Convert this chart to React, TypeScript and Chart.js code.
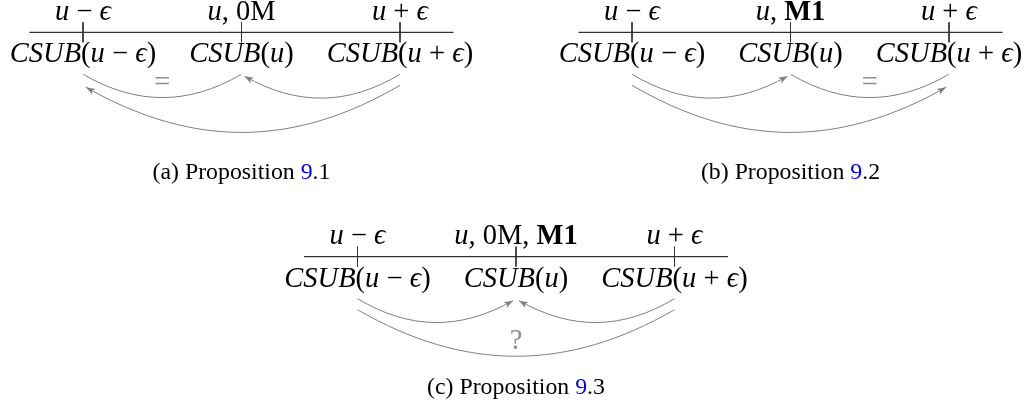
import React, { useEffect, useRef } from "react";
import { Chart, registerables } from "chart.js";

Chart.register(...registerables);

// ---------- data ----------
const panelLetters = ["a", "b", "c"];
const propositionChapters = ["9", "9", "9"];
const propositionNumbers = ["1", "2", "3"];
const tickPositions = [-1, 0, 1];
const topLabelsA = ["u − ϵ", "u, 0M", "u + ϵ"];
const topLabelsB = ["u − ϵ", "u, M1", "u + ϵ"];
const topLabelsC = ["u − ϵ", "u, 0M, M1", "u + ϵ"];
const bottomLabels = ["CSUB(u − ϵ)", "CSUB(u)", "CSUB(u + ϵ)"];
// arrows: [from tick, to tick, level (0 inner, 1 outer), arrow head (1/0), label]
const arrowsA: [number, number, number, number, string][] = [
  [-1, 0, 0, 0, "="],
  [1, 0, 0, 1, ""],
  [1, -1, 1, 1, ""],
];
const arrowsB: [number, number, number, number, string][] = [
  [-1, 0, 0, 1, ""],
  [0, 1, 0, 0, "="],
  [-1, 1, 1, 1, ""],
];
const arrowsC: [number, number, number, number, string][] = [
  [-1, 0, 0, 1, ""],
  [1, 0, 0, 1, ""],
  [-1, 1, 1, 0, "?"],
];

// ---------- layout ----------
const W = 1029;
const H = 414;
const panelCenters = [241.5, 790.5, 516];
const panelRows = [32.3, 32.3, 256.7];
const captionBaselines = [178.5, 178.5, 394];
const TICK_SPACING = 158.5;
const LINE_HALF = 212;
const TICK_HALF = 10;
const TOP_BASE = -12.5;
const BOTTOM_BASE = 30;
const ARROW_Y = [42, 53];
const MATH_SIZE = 28.5;
const CAPTION_SIZE = 23.8;
const FONT = '"Liberation Serif", "Times New Roman", serif';
const CURVE_COLOR = "#7f7f7f";
const LABEL_COLOR = "#8f8f8f";
const LINE_COLOR = "#333333";
const LINK_COLOR = "#0000ff";

const panelTop = [topLabelsA, topLabelsB, topLabelsC];
const panelArrows = [arrowsA, arrowsB, arrowsC];

type Run = { t: string; font: string; color: string };

function mathRuns(s: string, color = "#000"): Run[] {
  const re = /0M|M1|[A-Za-zϵ]+|[^A-Za-zϵ0]+|0/g;
  const out: Run[] = [];
  const m = s.match(re) || [];
  for (const tok of m) {
    const italic = /^[A-Za-zϵ]+$/.test(tok) && tok !== "0M" && tok !== "M1";
    const bold = tok === "M1";
    out.push({
      t: tok,
      font: `${italic ? "italic " : ""}${bold ? "bold " : ""}${MATH_SIZE}px ${FONT}`,
      color,
    });
  }
  return out;
}

function drawRuns(ctx: CanvasRenderingContext2D, runs: Run[], cx: number, y: number) {
  let total = 0;
  const widths: number[] = [];
  for (const r of runs) {
    ctx.font = r.font;
    const w = ctx.measureText(r.t).width;
    widths.push(w);
    total += w;
  }
  let x = cx - total / 2;
  ctx.textAlign = "left";
  ctx.textBaseline = "alphabetic";
  runs.forEach((r, i) => {
    ctx.font = r.font;
    ctx.fillStyle = r.color;
    ctx.fillText(r.t, x, y);
    x += widths[i];
  });
}

const diagramPlugin = {
  id: "diagram",
  afterDatasetsDraw(chart: any) {
    const ctx: CanvasRenderingContext2D = chart.ctx;
    const xs = chart.scales.x;
    const ys = chart.scales.y;
    const px = (v: number) => xs.getPixelForValue(v);
    const py = (v: number) => ys.getPixelForValue(v);
    ctx.save();
    panelLetters.forEach((letter, p) => {
      const cx = panelCenters[p];
      const row = panelRows[p];
      const tickX = (t: number) => cx + t * TICK_SPACING;
      // labels
      tickPositions.forEach((t, i) => {
        drawRuns(ctx, mathRuns(panelTop[p][i]), px(tickX(t)), py(row + TOP_BASE));
        drawRuns(ctx, mathRuns(bottomLabels[i]), px(tickX(t)), py(row + BOTTOM_BASE));
      });
      // arrows
      panelArrows[p].forEach(([from, to, level, head, label]) => {
        const y0 = row + ARROW_Y[level];
        const x0 = px(tickX(from));
        const sy0 = py(y0);
        const dir = Math.sign(to - from);
        const x3 = px(tickX(to) - (head ? dir * 3 : 0));
        const sy3 = py(y0 + (head ? 2 : 0));
        const dx = x3 - x0;
        const dy = sy3 - sy0;
        const L = Math.hypot(dx, dy);
        const ux = dx / L;
        const uy = dy / L;
        let nx = -uy;
        let ny = ux;
        if (ny < 0) {
          nx = -nx;
          ny = -ny;
        }
        const d = 0.3915 * L;
        const c = Math.cos(Math.PI / 6);
        const s = Math.sin(Math.PI / 6);
        const c1x = x0 + d * (c * ux + s * nx);
        const c1y = sy0 + d * (c * uy + s * ny);
        const c2x = x3 + d * (-c * ux + s * nx);
        const c2y = sy3 + d * (-c * uy + s * ny);
        ctx.strokeStyle = CURVE_COLOR;
        ctx.lineWidth = 1;
        ctx.beginPath();
        ctx.moveTo(x0, sy0);
        ctx.bezierCurveTo(c1x, c1y, c2x, c2y, x3, sy3);
        ctx.stroke();
        if (head) {
          const tx = x3 - c2x;
          const ty = sy3 - c2y;
          const tl = Math.hypot(tx, ty);
          const ax = tx / tl;
          const ay = ty / tl;
          const len = 9;
          const hw = 3.3;
          ctx.fillStyle = CURVE_COLOR;
          ctx.beginPath();
          ctx.moveTo(x3, sy3);
          ctx.lineTo(x3 - ax * len - ay * hw, sy3 - ay * len + ax * hw);
          ctx.lineTo(x3 - ax * len * 0.75, sy3 - ay * len * 0.75);
          ctx.lineTo(x3 - ax * len + ay * hw, sy3 - ay * len - ax * hw);
          ctx.closePath();
          ctx.fill();
        }
        if (label) {
          const mx = 0.125 * x0 + 0.375 * c1x + 0.375 * c2x + 0.125 * x3;
          const my = 0.125 * sy0 + 0.375 * c1y + 0.375 * c2y + 0.125 * sy3;
          drawRuns(
            ctx,
            [{ t: label, font: `${MATH_SIZE}px ${FONT}`, color: LABEL_COLOR }],
            mx,
            my - 7
          );
        }
      });
      // caption
      const capFont = `${CAPTION_SIZE}px ${FONT}`;
      drawRuns(
        ctx,
        [
          { t: `(${letter}) Proposition `, font: capFont, color: "#000" },
          { t: propositionChapters[p], font: capFont, color: LINK_COLOR },
          { t: `.${propositionNumbers[p]}`, font: capFont, color: "#000" },
        ],
        px(cx),
        py(captionBaselines[p])
      );
    });
    ctx.restore();
  },
};

export default function App() {
  const ref = useRef<HTMLCanvasElement | null>(null);
  useEffect(() => {
    if (!ref.current) return;
    const datasets: any[] = [];
    panelLetters.forEach((_, p) => {
      const cx = panelCenters[p];
      const row = panelRows[p];
      datasets.push({
        data: [
          { x: cx - LINE_HALF, y: row },
          { x: cx + LINE_HALF, y: row },
        ],
        showLine: true,
        borderColor: LINE_COLOR,
        borderWidth: 1.2,
        pointRadius: 0,
      });
      tickPositions.forEach((t) => {
        const x = cx + t * TICK_SPACING;
        datasets.push({
          data: [
            { x, y: row - TICK_HALF },
            { x, y: row + TICK_HALF },
          ],
          showLine: true,
          borderColor: LINE_COLOR,
          borderWidth: 1,
          pointRadius: 0,
        });
      });
    });
    const chart = new Chart(ref.current, {
      type: "scatter",
      data: { datasets },
      options: {
        animation: false,
        responsive: false,
        layout: { padding: 0 },
        plugins: { legend: { display: false }, tooltip: { enabled: false } },
        scales: {
          x: { type: "linear", min: 0, max: W, display: false },
          y: { type: "linear", min: 0, max: H, reverse: true, display: false },
        },
      },
      plugins: [diagramPlugin],
    } as any);
    return () => chart.destroy();
  }, []);
  return (
    <div style={{ position: "fixed", left: 0, top: 0, width: W, height: H, background: "#fff" }}>
      <canvas ref={ref} width={W} height={H} style={{ display: "block" }} />
    </div>
  );
}
